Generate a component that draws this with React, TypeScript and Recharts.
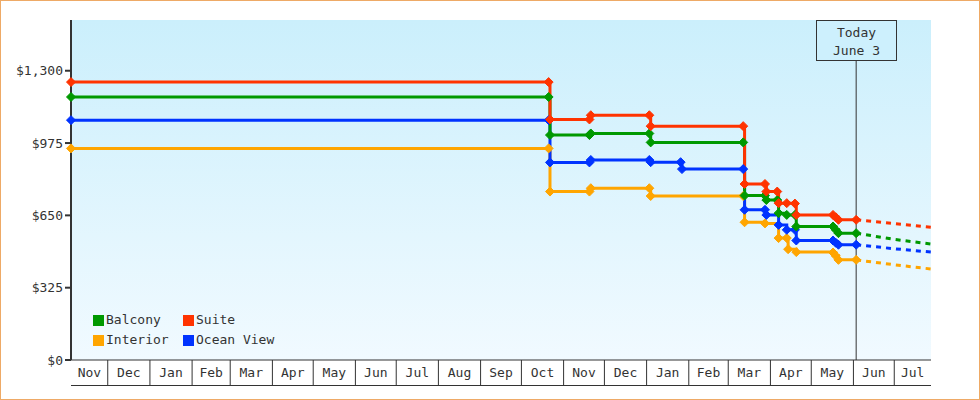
import React from "react";
import {
  ComposedChart,
  Line,
  Scatter,
  XAxis,
  YAxis,
  CartesianGrid,
  ReferenceLine,
  Legend,
} from "recharts";

const FONT = "'DejaVu Sans Mono', monospace";
const INK = "#333333";

// x range and month cells
const rangeStart = "2022-11-04";
const rangeEnd = "2024-07-28";
const today = "2024-06-03";
const firstMonth = { year: 2022, month: 10 }; // Nov 2022
const monthLabels = [
  "Nov", "Dec", "Jan", "Feb", "Mar", "Apr", "May", "Jun", "Jul", "Aug", "Sep",
  "Oct", "Nov", "Dec", "Jan", "Feb", "Mar", "Apr", "May", "Jun", "Jul",
];

const priceTicks = [0, 325, 650, 975, 1300];
const priceMax = 1528;

// observed fares, [date, price]
const suite: [string, number][] = [
  ["2022-11-04", 1249], ["2023-10-21", 1249], ["2023-10-22", 1081],
  ["2023-11-20", 1081], ["2023-11-21", 1100], ["2024-01-03", 1100],
  ["2024-01-04", 1051], ["2024-03-12", 1051], ["2024-03-13", 791],
  ["2024-03-28", 791], ["2024-03-29", 757], ["2024-04-06", 757],
  ["2024-04-07", 705], ["2024-04-13", 705], ["2024-04-19", 703],
  ["2024-04-20", 652], ["2024-05-17", 652], ["2024-05-19", 641],
  ["2024-05-21", 630], ["2024-06-03", 630],
];
const balcony: [string, number][] = [
  ["2022-11-04", 1182], ["2023-10-21", 1182], ["2023-10-22", 1011],
  ["2023-11-20", 1011], ["2023-11-21", 1018], ["2024-01-03", 1018],
  ["2024-01-04", 978], ["2024-03-12", 978], ["2024-03-13", 739],
  ["2024-03-28", 739], ["2024-03-29", 719], ["2024-04-06", 719],
  ["2024-04-07", 660], ["2024-04-13", 652], ["2024-04-19", 652],
  ["2024-04-20", 600], ["2024-05-17", 600], ["2024-05-19", 585],
  ["2024-05-21", 570], ["2024-06-03", 570],
];
const oceanView: [string, number][] = [
  ["2022-11-04", 1078], ["2023-10-21", 1078], ["2023-10-22", 888],
  ["2023-11-20", 888], ["2023-11-21", 899], ["2024-01-03", 899],
  ["2024-01-04", 889], ["2024-01-26", 889], ["2024-01-27", 858],
  ["2024-03-12", 858], ["2024-03-13", 675], ["2024-03-28", 675],
  ["2024-03-29", 652], ["2024-04-07", 607], ["2024-04-13", 585],
  ["2024-04-19", 585], ["2024-04-20", 537], ["2024-05-17", 537],
  ["2024-05-19", 527], ["2024-05-21", 518], ["2024-06-03", 518],
];
const interior: [string, number][] = [
  ["2022-11-04", 951], ["2023-10-21", 951], ["2023-10-22", 757],
  ["2023-11-20", 757], ["2023-11-21", 772], ["2024-01-03", 772],
  ["2024-01-04", 737], ["2024-03-12", 737], ["2024-03-13", 619],
  ["2024-03-28", 614], ["2024-04-07", 548], ["2024-04-13", 548],
  ["2024-04-14", 498], ["2024-04-20", 485], ["2024-05-17", 483],
  ["2024-05-19", 468], ["2024-05-21", 450], ["2024-06-03", 450],
];

// projected fares after today
const suiteForecast: [string, number][] = [["2024-06-03", 630], ["2024-07-01", 613], ["2024-07-28", 597]];
const balconyForecast: [string, number][] = [["2024-06-03", 570], ["2024-07-01", 542], ["2024-07-28", 521]];
const oceanViewForecast: [string, number][] = [["2024-06-03", 518], ["2024-07-01", 500], ["2024-07-28", 485]];
const interiorForecast: [string, number][] = [["2024-06-03", 450], ["2024-07-01", 428], ["2024-07-28", 409]];

const ts = (d: string) => Date.parse(d + "T00:00:00Z");
const toRows = (list: [string, number][]) => list.map(([d, price]) => ({ t: ts(d), price }));

const series = [
  { name: "Interior", color: "#ffa500", data: toRows(interior), forecast: toRows(interiorForecast) },
  { name: "Ocean View", color: "#0033ff", data: toRows(oceanView), forecast: toRows(oceanViewForecast) },
  { name: "Balcony", color: "#009900", data: toRows(balcony), forecast: toRows(balconyForecast) },
  { name: "Suite", color: "#ff3300", data: toRows(suite), forecast: toRows(suiteForecast) },
];
const legendOrder = ["Balcony", "Suite", "Interior", "Ocean View"];

const startT = ts(rangeStart);
const endT = ts(rangeEnd);
const todayT = ts(today);

// month boundaries + cell centres as ticks
const tickInfo = new Map<number, { kind: string; label?: string }>();
tickInfo.set(startT, { kind: "start" });
tickInfo.set(endT, { kind: "end" });
monthLabels.forEach((label, i) => {
  const m0 = Date.UTC(firstMonth.year, firstMonth.month + i, 1);
  const m1 = Date.UTC(firstMonth.year, firstMonth.month + i + 1, 1);
  if (m0 > startT) tickInfo.set(m0, { kind: "edge" });
  const a = Math.max(m0, startT);
  const b = Math.min(m1, endT);
  tickInfo.set((a + b) / 2, { kind: "label", label });
});
const xTicks = Array.from(tickInfo.keys()).sort((a, b) => a - b);

const MonthTick = (props: any) => {
  const { x, y, payload } = props;
  const info = tickInfo.get(payload.value);
  if (!info) return null;
  if (info.kind === "label") {
    return (
      <text x={x} y={y + 17} textAnchor="middle" fontFamily={FONT} fontSize={13} fill={INK}>
        {info.label}
      </text>
    );
  }
  const left = info.kind === "start" ? 0 : -22;
  const right = info.kind === "end" ? 0 : 22;
  return (
    <g>
      {info.kind === "edge" && (
        <line x1={x} y1={y} x2={x} y2={y + 25} stroke={INK} strokeWidth={1} />
      )}
      <line x1={x + left} y1={y + 25.5} x2={x + right} y2={y + 25.5} stroke={INK} strokeWidth={1} />
    </g>
  );
};

const diamond = (color: string) => (props: any) => {
  const { cx, cy } = props;
  if (cx == null || cy == null) return <g />;
  const r = 4.5;
  return (
    <polygon
      points={`${cx},${cy - r} ${cx + r},${cy} ${cx},${cy + r} ${cx - r},${cy}`}
      fill={color}
      stroke={color}
      strokeWidth={1}
      strokeLinejoin="round"
    />
  );
};

const TodayBox = (props: any) => {
  const vb = props.viewBox || {};
  const cx = Math.round(vb.x);
  const top = vb.y;
  return (
    <g>
      <rect x={cx - 40 + 0.5} y={top + 0.5} width={80} height={40} fill="#cdf0fd" stroke={INK} strokeWidth={1} />
      <text x={cx + 0.5} y={top + 17} textAnchor="middle" fontFamily={FONT} fontSize={13} fill={INK}>
        Today
      </text>
      <text x={cx + 0.5} y={top + 35} textAnchor="middle" fontFamily={FONT} fontSize={13} fill={INK}>
        June 3
      </text>
    </g>
  );
};

const LegendBox = () => (
  <div
    style={{
      display: "grid",
      gridTemplateColumns: "90px 110px",
      rowGap: 4,
      fontFamily: FONT,
      fontSize: 13,
      color: INK,
    }}
  >
    {legendOrder.map((name) => {
      const s = series.find((x) => x.name === name)!;
      return (
        <div key={name} style={{ display: "flex", alignItems: "center", height: 16, lineHeight: "16px" }}>
          <span style={{ width: 11, height: 11, background: s.color, display: "inline-block", marginRight: 2 }} />
          <span>{name}</span>
        </div>
      );
    })}
  </div>
);

export default function App() {
  return (
    <div
      style={{
        position: "absolute",
        left: 0,
        top: 0,
        width: 980,
        height: 400,
        boxSizing: "border-box",
        border: "1px solid #eeaa66",
        background: "#fff",
      }}
    >
      <div style={{ position: "absolute", left: -1, top: -1 }}>
        <ComposedChart width={980} height={400} margin={{ top: 20, right: 49, bottom: 15, left: 6 }}>
          <defs>
            <linearGradient id="plotBg" x1="0" y1="0" x2="0" y2="1">
              <stop offset="0%" stopColor="#cbeffc" />
              <stop offset="100%" stopColor="#f1faff" />
            </linearGradient>
          </defs>
          <CartesianGrid horizontal={false} vertical={false} fill="url(#plotBg)" stroke="none" />
          <XAxis
            dataKey="t"
            type="number"
            domain={[startT, endT]}
            ticks={xTicks}
            interval={0}
            height={25}
            tickSize={0}
            tickMargin={0}
            tickLine={false}
            axisLine={{ stroke: INK, strokeWidth: 1 }}
            tick={<MonthTick />}
          />
          <YAxis
            type="number"
            domain={[0, priceMax]}
            ticks={priceTicks}
            width={65}
            tickSize={6}
            tickMargin={2}
            axisLine={{ stroke: INK, strokeWidth: 2 }}
            tickLine={{ stroke: INK, strokeWidth: 2 }}
            tick={{ fontFamily: FONT, fontSize: 13, fill: INK }}
            tickFormatter={(v: number) => "$" + v.toLocaleString("en-US")}
          />
          <ReferenceLine x={todayT} stroke={INK} strokeWidth={1} label={(p: any) => <TodayBox {...p} />} />
          {series.map((s) => (
            <Line
              key={s.name + "-f"}
              data={s.forecast}
              dataKey="price"
              type="linear"
              stroke={s.color}
              strokeWidth={3}
              strokeDasharray="5 5"
              dot={false}
              activeDot={false}
              legendType="none"
              isAnimationActive={false}
            />
          ))}
          {series.map((s) => (
            <Line
              key={s.name}
              name={s.name}
              data={s.data}
              dataKey="price"
              type="stepAfter"
              stroke={s.color}
              strokeWidth={3}
              dot={false}
              activeDot={false}
              isAnimationActive={false}
            />
          ))}
          {series.map((s) => (
            <Scatter
              key={s.name + "-m"}
              data={s.data}
              dataKey="price"
              fill={s.color}
              shape={diamond(s.color)}
              legendType="none"
              isAnimationActive={false}
            />
          ))}
          <Legend
            layout="horizontal"
            verticalAlign="middle"
            wrapperStyle={{ left: 93, top: 312, width: 220, right: "auto", bottom: "auto" }}
            content={() => <LegendBox />}
          />
        </ComposedChart>
      </div>
    </div>
  );
}
